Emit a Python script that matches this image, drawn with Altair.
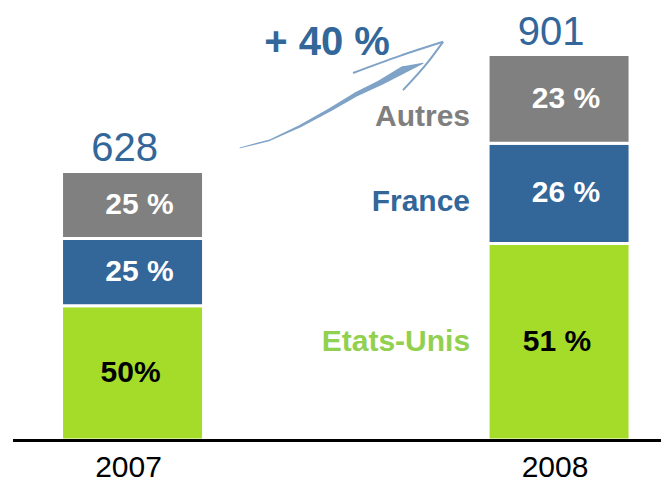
import altair as alt
import pandas as pd

# ---- data ----
years = [2007, 2008]
totals = [628, 901]
regions = ["Etats-Unis", "France", "Autres"]
shares_2007 = [50, 25, 25]
shares_2008 = [51, 26, 23]
labels_2007 = ["50%", "25 %", "25 %"]
labels_2008 = ["51 %", "26 %", "23 %"]
growth_label = "+ 40 %"

# decorative swoosh arrow (in data units: year, value)
swoosh_x = [2007.252, 2007.322, 2007.393, 2007.463, 2007.522, 2007.580, 2007.634, 2007.681]
swoosh_y = [683, 701, 734, 772, 807, 835, 865, 881]
swoosh_w = [1, 1.5, 2.5, 3.5, 4.5, 5.5, 7.5, 1]
head_upper_x = [2007.517, 2007.627, 2007.728]
head_upper_y = [858, 898, 931]
head_back_x = [2007.728, 2007.693, 2007.634]
head_back_y = [931, 884, 818]

bar_colors = ["#a5dc2a", "#336699", "#808080"]
text_colors = {"Etats-Unis": "#92d050", "France": "#336699", "Autres": "#7f7f7f"}
FONT = "Liberation Sans"

rows = []
for yr, tot, shares, labs in [(2007, totals[0], shares_2007, labels_2007),
                              (2008, totals[1], shares_2008, labels_2008)]:
    base = 0.0
    for reg, sh, lab in zip(regions, shares, labs):
        v = tot * sh / 100.0
        rows.append({"year": yr, "region": reg, "y0": base, "y1": base + v,
                     "mid": base + v / 2, "label": lab, "total": tot})
        base += v
df = pd.DataFrame(rows)
tot_df = pd.DataFrame({"year": years, "total": totals, "ylab": [str(y) for y in years]})

xs = alt.Scale(domain=[2006.708, 2008.239], nice=False, zero=False, padding=0)
ys = alt.Scale(domain=[0, 1010], nice=False, zero=True, padding=0)
X = lambda f: alt.X(f, scale=xs, axis=None)
Y = lambda f: alt.Y(f, scale=ys, axis=None)

bars = alt.Chart(df).mark_bar(size=142, stroke="white", strokeWidth=3).encode(
    x=X("year:Q"), y=Y("y0:Q"), y2="y1:Q",
    color=alt.Color("region:N", scale=alt.Scale(domain=regions, range=bar_colors), legend=None),
)

pct_green = alt.Chart(df[df.region == "Etats-Unis"]).mark_text(
    font=FONT, fontSize=30, fontWeight="bold", dx=-2, baseline="middle", color="black").encode(
    x=X("year:Q"), y=Y("mid:Q"), text="label:N")
pct_other = alt.Chart(df[df.region != "Etats-Unis"]).mark_text(
    font=FONT, fontSize=30, fontWeight="bold", dx=7, baseline="middle", color="white").encode(
    x=X("year:Q"), y=Y("mid:Q"), text="label:N")

tot_text = alt.Chart(tot_df).mark_text(font=FONT, fontSize=40, color="#336699", dx=-8, dy=-10,
                                       baseline="alphabetic").encode(
    x=X("year:Q"), y=Y("total:Q"), text="total:Q")

year_text = alt.Chart(tot_df).mark_text(font=FONT, fontSize=30, color="black", dx=-4, dy=37,
                                        baseline="alphabetic").encode(
    x=X("year:Q"), y=alt.datum(0, scale=ys, axis=None), text="ylab:N")

cat_dy = {"Autres": 18, "France": 9, "Etats-Unis": 0}
cat_layers = []
for reg in regions:
    cat_layers.append(
        alt.Chart(df[(df.year == 2008) & (df.region == reg)]).mark_text(
            font=FONT, fontSize=30, fontWeight="bold", color=text_colors[reg],
            align="right", baseline="middle", dx=-89, dy=cat_dy[reg]).encode(
            x=X("year:Q"), y=Y("mid:Q"), text="region:N"))

sw_df = pd.DataFrame({"sx": swoosh_x, "sy": swoosh_y, "w": swoosh_w, "i": range(len(swoosh_x))})
swoosh = alt.Chart(sw_df).mark_trail(color="#7fa3c6").encode(
    x=X("sx:Q"), y=Y("sy:Q"), size=alt.Size("w:Q", scale=None, legend=None), order="i:Q")

hd = pd.DataFrame({
    "hx": head_upper_x + head_back_x,
    "hy": head_upper_y + head_back_y,
    "part": ["u"] * len(head_upper_x) + ["b"] * len(head_back_x),
    "i": list(range(len(head_upper_x))) + list(range(len(head_back_x))),
})
head = alt.Chart(hd).mark_line(color="#7fa3c6", strokeWidth=2, interpolate="monotone").encode(
    x=X("hx:Q"), y=Y("hy:Q"), detail="part:N", order="i:Q")

growth = alt.Chart(pd.DataFrame({"gx": [2007.456], "gy": [900], "t": [growth_label]})).mark_text(
    font=FONT, fontSize=40, fontWeight="bold", color="#336699", baseline="alphabetic").encode(
    x=X("gx:Q"), y=Y("gy:Q"), text="t:N")

baseline_rule = alt.Chart(pd.DataFrame({"a": [0]})).mark_rule(color="black", strokeWidth=3).encode(
    x=alt.value(5), x2=alt.value(661), y=alt.value(432.5))

chart = alt.layer(bars, pct_green, pct_other, tot_text, year_text, *cat_layers,
                  swoosh, head, growth, baseline_rule).properties(
    width=653, height=432,
    autosize=alt.AutoSizeParams(type="none"),
    padding={"left": 0, "top": 0, "right": 0, "bottom": 46},
).configure_view(stroke=None)

chart.save("out.html", embed_options={"renderer": "svg", "actions": False})
